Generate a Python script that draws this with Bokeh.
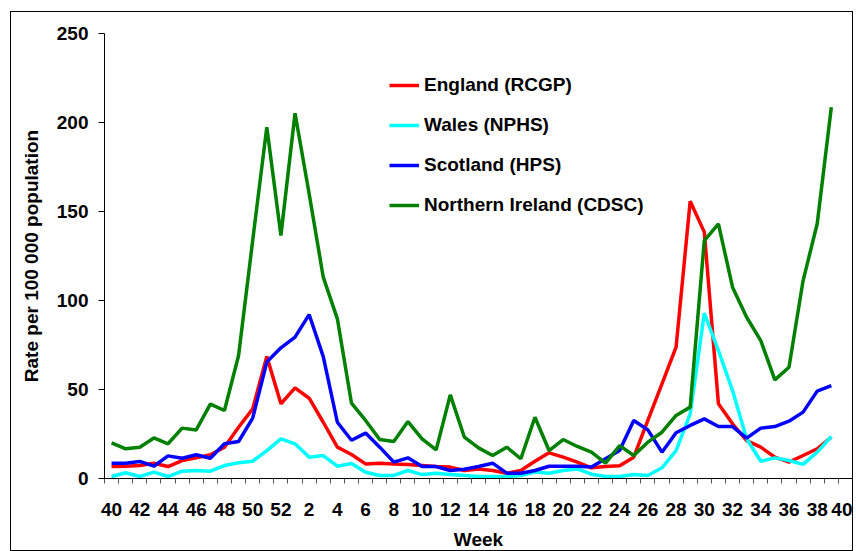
from bokeh.plotting import figure
from bokeh.models import Range1d, FixedTicker, Legend, LegendItem
from bokeh.embed import file_html
from bokeh.resources import INLINE

# surveillance weeks, week 40 to week 39 of the next year
weeks = [40, 41, 42, 43, 44, 45, 46, 47, 48, 49, 50, 51, 52,
         1, 2, 3, 4, 5, 6, 7, 8, 9, 10, 11, 12, 13, 14, 15, 16, 17, 18, 19, 20,
         21, 22, 23, 24, 25, 26, 27, 28, 29, 30, 31, 32, 33, 34, 35, 36, 37, 38, 39]
tick_weeks = [40, 42, 44, 46, 48, 50, 52, 2, 4, 6, 8, 10, 12, 14, 16, 18, 20,
              22, 24, 26, 28, 30, 32, 34, 36, 38, 40]

england = [6.7, 6.9, 7.3, 8.6, 6.7, 10.1, 11.6, 13.3, 17.6, 28.8, 39.1, 68.5, 42.0,
           50.9, 45.1, 31.6, 17.6, 13.5, 8.2, 8.6, 8.2, 7.9, 7.3, 6.7, 6.4, 4.5, 5.4,
           4.5, 3.0, 4.5, 9.7, 14.4, 12.0, 9.2, 6.0, 6.7, 7.1, 12.0, 32.6, 53.2, 73.8,
           155.8, 138.4, 42.0, 30.7, 21.3, 17.6, 12.0, 9.2, 12.9, 16.7, 23.2]
wales = [1.1, 3.2, 1.1, 3.6, 1.1, 4.1, 4.5, 4.1, 7.3, 8.8, 9.7, 15.7, 22.3,
         19.5, 12.0, 12.9, 6.9, 8.4, 3.5, 1.7, 1.7, 4.5, 2.2, 3.0, 2.2, 1.7, 1.1,
         1.1, 1.1, 1.7, 3.6, 3.0, 4.5, 5.4, 2.4, 1.1, 1.1, 2.2, 1.7, 6.0, 15.7,
         36.3, 92.9, 71.9, 49.4, 22.3, 9.7, 11.6, 10.1, 7.9, 14.8, 23.6]
scotland = [8.6, 8.6, 9.6, 6.9, 12.7, 11.4, 13.3, 11.4, 19.5, 20.8, 33.9, 65.4, 73.4,
            79.4, 92.1, 68.5, 31.6, 21.5, 25.5, 17.6, 9.2, 11.6, 6.7, 6.7, 4.5, 5.2, 6.7,
            8.6, 3.0, 3.0, 4.5, 6.9, 6.9, 6.9, 6.5, 11.1, 15.7, 32.6, 27.3, 14.8, 25.7,
            29.8, 33.5, 29.2, 29.2, 22.7, 28.3, 29.2, 32.2, 37.3, 49.1, 52.2]
n_ireland = [20.0, 16.7, 17.6, 22.8, 19.5, 28.3, 27.3, 41.8, 38.2, 69.1, 133.7, 197.4, 136.5,
             205.2, 160.0, 113.1, 89.7, 42.3, 32.6, 21.9, 20.8, 32.0, 22.3, 16.1, 47.0, 23.2, 17.2,
             12.9, 17.6, 11.1, 34.4, 15.7, 21.9, 18.0, 14.8, 8.6, 18.5, 12.9, 20.4, 26.0, 35.4,
             40.1, 133.7, 143.1, 107.5, 90.6, 77.5, 55.4, 62.5, 111.2, 143.1, 208.6]

FONT = "Liberation Sans"

x = list(range(len(weeks)))

p = figure(width=843, height=540, output_backend="svg", toolbar_location=None,
           x_range=Range1d(-0.5, len(weeks) + 0.5), y_range=Range1d(0, 250),
           min_border_left=93, min_border_right=2, min_border_top=21, min_border_bottom=70)
p.outline_line_color = None
p.grid.grid_line_color = None
p.styles = {"border": "1px solid black", "margin": "11px 0 0 10px"}

series = [("England (RCGP)", england, "#ff0000"),
          ("Wales (NPHS)", wales, "#00ffff"),
          ("Scotland (HPS)", scotland, "#0000ff"),
          ("Northern Ireland (CDSC)", n_ireland, "#008000")]
items = []
for name, vals, col in series:
    r = p.line(x, vals, line_color=col, line_width=3.5)
    items.append(LegendItem(label=name, renderers=[r]))

# x axis: labels on every other week, tick marks between weeks
tick_pos = list(range(0, len(weeks) + 1, 2))
p.xaxis.ticker = FixedTicker(ticks=tick_pos,
                             minor_ticks=[i - 0.5 for i in range(len(weeks) + 2)])
p.xaxis.major_label_overrides = {t: str(w) for t, w in zip(tick_pos, tick_weeks)}
p.xaxis.major_tick_in = 0
p.xaxis.major_tick_out = 0
p.xaxis.minor_tick_in = 0
p.xaxis.minor_tick_out = 5
p.xaxis.major_label_standoff = 19
p.xaxis.axis_label = "Week"
p.xaxis.axis_label_standoff = 10

p.yaxis.ticker = FixedTicker(ticks=[0, 50, 100, 150, 200, 250])
p.yaxis.major_tick_in = 0
p.yaxis.major_tick_out = 6
p.yaxis.minor_tick_out = 0
p.yaxis.major_label_standoff = 10
p.yaxis.axis_label = "Rate per 100 000 population"
p.yaxis.axis_label_standoff = 12

for ax in (p.xaxis, p.yaxis):
    ax.axis_line_color = "black"
    ax.major_tick_line_color = "black"
    ax.minor_tick_line_color = "#555555"
    ax.major_label_text_font = FONT
    ax.major_label_text_font_style = "bold"
    ax.major_label_text_font_size = "19px"
    ax.major_label_text_color = "black"
    ax.axis_label_text_font = FONT
    ax.axis_label_text_font_style = "bold"
    ax.axis_label_text_font_size = "19px"
    ax.axis_label_text_color = "black"

legend = Legend(items=items, location=(285, 262), border_line_color=None,
                background_fill_alpha=0, glyph_width=30, glyph_height=20,
                label_height=20, spacing=18, padding=0, margin=0, label_standoff=5,
                label_text_font=FONT, label_text_font_style="bold",
                label_text_font_size="19px", label_text_color="black")
p.add_layout(legend)

open("out.html", "w").write(file_html(p, INLINE))
